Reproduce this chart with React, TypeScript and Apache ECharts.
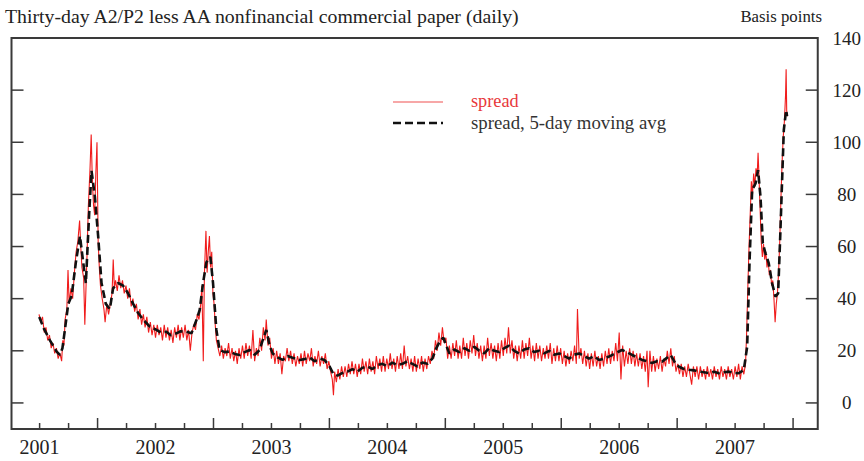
import React, { useEffect, useRef } from "react";
import * as echarts from "echarts";

// Year boundaries (long ticks) and quarter ticks (short ticks)
const yearTicks = [2002, 2003, 2004, 2005, 2006, 2007, 2008];
const quarterTicks = [
  2001.5, 2001.75, 2002.25, 2002.5, 2002.75, 2003.25, 2003.5, 2003.75,
  2004.25, 2004.5, 2004.75, 2005.25, 2005.5, 2005.75, 2006.25, 2006.5,
  2006.75, 2007.25, 2007.5, 2007.75,
];
const yearLabels = ["2001", "2002", "2003", "2004", "2005", "2006", "2007"];
const yTickValues = [0, 20, 40, 60, 80, 100, 120];
const yLabelValues = [0, 20, 40, 60, 80, 100, 120, 140];

const titleText = "Thirty-day A2/P2 less AA nonfinancial commercial paper (daily)";
const unitText = "Basis points";
const seriesNames = ["spread", "spread, 5-day moving avg"];

// 5-day moving average, [decimal year, basis points]
const spreadMA: [number, number][] = [
  [2001.497, 33], [2001.537, 28.5], [2001.589, 24], [2001.647, 19.7], [2001.675, 18.4],
  [2001.697, 21], [2001.718, 28], [2001.747, 38], [2001.776, 41], [2001.813, 54],
  [2001.848, 64], [2001.876, 54], [2001.899, 46], [2001.928, 73], [2001.948, 89],
  [2001.977, 79], [2002.005, 64], [2002.034, 46], [2002.071, 38], [2002.106, 36],
  [2002.134, 44], [2002.177, 46], [2002.22, 45], [2002.264, 42], [2002.307, 38],
  [2002.35, 34.5], [2002.393, 32], [2002.45, 29.3], [2002.508, 28], [2002.545, 27],
  [2002.594, 27.3], [2002.631, 26], [2002.68, 26.7], [2002.717, 27.5], [2002.767, 27.3],
  [2002.81, 26.7], [2002.853, 31.8], [2002.881, 35.7], [2002.91, 46], [2002.939, 54],
  [2002.973, 56], [2002.996, 46], [2003.025, 28], [2003.053, 20.3], [2003.096, 19.5],
  [2003.14, 19.7], [2003.183, 18.8], [2003.226, 18.4], [2003.269, 19.5], [2003.312, 20.3],
  [2003.355, 18.5], [2003.398, 20.3], [2003.424, 24], [2003.456, 28], [2003.484, 22],
  [2003.51, 19], [2003.553, 17.5], [2003.596, 16.5], [2003.639, 18], [2003.682, 17.3],
  [2003.742, 16.5], [2003.785, 16.8], [2003.829, 17.5], [2003.872, 16], [2003.915, 17],
  [2003.958, 16.5], [2004.001, 14], [2004.035, 11], [2004.07, 10.5], [2004.113, 11.5],
  [2004.156, 12], [2004.199, 13], [2004.242, 12], [2004.285, 13.5], [2004.328, 14],
  [2004.371, 13], [2004.414, 14.5], [2004.457, 15], [2004.5, 14], [2004.543, 15.5],
  [2004.586, 14.5], [2004.63, 15], [2004.673, 16], [2004.716, 15], [2004.759, 14],
  [2004.802, 15.5], [2004.845, 15], [2004.888, 17], [2004.922, 21], [2004.957, 24],
  [2004.983, 25], [2005.009, 22], [2005.034, 19], [2005.077, 20.5], [2005.12, 19.5],
  [2005.164, 21], [2005.207, 20], [2005.25, 21.5], [2005.293, 20], [2005.336, 19],
  [2005.379, 21], [2005.422, 20], [2005.465, 19.5], [2005.508, 21], [2005.551, 22],
  [2005.594, 20], [2005.637, 19], [2005.68, 20.5], [2005.723, 21], [2005.766, 19.5],
  [2005.809, 20], [2005.853, 19], [2005.896, 20], [2005.939, 18.5], [2005.982, 19],
  [2006.025, 18], [2006.068, 17], [2006.111, 18.5], [2006.154, 19], [2006.197, 18],
  [2006.24, 17], [2006.283, 18], [2006.326, 16.5], [2006.369, 17], [2006.412, 17.8],
  [2006.464, 19], [2006.524, 20.3], [2006.567, 19.5], [2006.611, 18.4], [2006.654, 17.5],
  [2006.697, 16.5], [2006.74, 16], [2006.783, 15.3], [2006.826, 16], [2006.869, 15.8],
  [2006.903, 17], [2006.944, 18.4], [2006.981, 15.5], [2007.015, 13.9], [2007.058, 13],
  [2007.101, 12.7], [2007.144, 12.5], [2007.188, 12], [2007.231, 11.8], [2007.274, 11.4],
  [2007.317, 12], [2007.36, 11.4], [2007.403, 11.8], [2007.446, 12], [2007.489, 11.5],
  [2007.532, 11.4], [2007.575, 12.7], [2007.604, 21.6], [2007.624, 53.7], [2007.647, 81.7],
  [2007.676, 84.2], [2007.698, 89.3], [2007.719, 79], [2007.739, 61.2], [2007.762, 57.4],
  [2007.79, 53.6], [2007.819, 45.9], [2007.848, 40.8], [2007.871, 42], [2007.891, 66.3],
  [2007.92, 104.7], [2007.94, 112.3], [2007.948, 110],
];

// Daily spread, [decimal year, basis points]
const spreadDaily: [number, number][] = [
  [2001.495, 34], [2001.51, 31], [2001.525, 33], [2001.54, 27], [2001.555, 29], [2001.57, 24],
  [2001.585, 26], [2001.6, 21], [2001.615, 23], [2001.63, 19], [2001.645, 21], [2001.66, 17],
  [2001.675, 19], [2001.69, 16], [2001.7, 24], [2001.71, 22], [2001.72, 32], [2001.735, 36],
  [2001.745, 51], [2001.755, 38], [2001.77, 44], [2001.785, 40], [2001.8, 50], [2001.815, 58],
  [2001.83, 62], [2001.845, 70], [2001.855, 60], [2001.865, 52], [2001.88, 48], [2001.89, 30],
  [2001.9, 44], [2001.91, 58], [2001.92, 75], [2001.935, 90], [2001.945, 103], [2001.955, 85],
  [2001.965, 76], [2001.975, 72], [2001.985, 88], [2001.995, 100], [2002.005, 62], [2002.015, 52],
  [2002.025, 45], [2002.04, 40], [2002.055, 36], [2002.065, 31], [2002.08, 38], [2002.095, 34],
  [2002.11, 38], [2002.125, 42], [2002.135, 55], [2002.145, 44], [2002.155, 47], [2002.17, 43],
  [2002.185, 49], [2002.2, 44], [2002.215, 47], [2002.23, 42], [2002.245, 45], [2002.26, 40],
  [2002.275, 44], [2002.29, 37], [2002.305, 40], [2002.32, 35], [2002.335, 38], [2002.35, 32],
  [2002.365, 36], [2002.38, 30], [2002.395, 34], [2002.41, 29], [2002.425, 33], [2002.44, 27],
  [2002.455, 31], [2002.47, 26], [2002.485, 30], [2002.5, 25], [2002.515, 30], [2002.53, 26],
  [2002.545, 29], [2002.56, 24], [2002.575, 30], [2002.59, 25], [2002.605, 29], [2002.62, 24],
  [2002.635, 28], [2002.65, 23], [2002.665, 29], [2002.68, 25], [2002.695, 30], [2002.71, 24],
  [2002.725, 29], [2002.74, 25], [2002.755, 30], [2002.77, 24], [2002.785, 28], [2002.8, 20],
  [2002.815, 27], [2002.83, 30], [2002.845, 28], [2002.86, 34], [2002.875, 32], [2002.89, 38],
  [2002.9, 45], [2002.912, 16], [2002.922, 50], [2002.935, 66], [2002.945, 50], [2002.955, 58],
  [2002.965, 64], [2002.975, 52], [2002.985, 58], [2002.995, 42], [2003.005, 38], [2003.015, 30],
  [2003.025, 24], [2003.04, 21], [2003.055, 18], [2003.07, 22], [2003.085, 17], [2003.1, 21],
  [2003.115, 18], [2003.13, 23], [2003.145, 17], [2003.16, 21], [2003.175, 16], [2003.19, 20],
  [2003.205, 15], [2003.22, 21], [2003.235, 17], [2003.25, 22], [2003.265, 17], [2003.28, 23],
  [2003.295, 18], [2003.31, 22], [2003.325, 17], [2003.34, 28], [2003.355, 16], [2003.37, 21],
  [2003.385, 18], [2003.4, 25], [2003.415, 20], [2003.43, 29], [2003.445, 24], [2003.455, 32],
  [2003.47, 22], [2003.485, 25], [2003.5, 17], [2003.515, 21], [2003.53, 15], [2003.545, 20],
  [2003.56, 15], [2003.575, 19], [2003.59, 11], [2003.605, 18], [2003.62, 16], [2003.635, 21],
  [2003.65, 16], [2003.665, 20], [2003.68, 15], [2003.695, 19], [2003.71, 14], [2003.725, 18],
  [2003.74, 15], [2003.755, 19], [2003.77, 14], [2003.785, 20], [2003.8, 15], [2003.815, 19],
  [2003.83, 16], [2003.845, 21], [2003.86, 14], [2003.875, 18], [2003.89, 15], [2003.905, 20],
  [2003.92, 14], [2003.935, 18], [2003.95, 15], [2003.965, 19], [2003.98, 13], [2003.995, 16],
  [2004.01, 12], [2004.025, 9], [2004.035, 3], [2004.045, 12], [2004.06, 8], [2004.075, 13],
  [2004.09, 9], [2004.105, 14], [2004.12, 10], [2004.135, 14], [2004.15, 10], [2004.165, 15],
  [2004.18, 11], [2004.195, 16], [2004.21, 11], [2004.225, 15], [2004.24, 10], [2004.255, 15],
  [2004.27, 11], [2004.285, 17], [2004.3, 12], [2004.315, 16], [2004.33, 11], [2004.345, 17],
  [2004.36, 12], [2004.375, 16], [2004.39, 11], [2004.405, 18], [2004.42, 13], [2004.435, 17],
  [2004.45, 12], [2004.465, 18], [2004.48, 12], [2004.495, 17], [2004.51, 13], [2004.525, 19],
  [2004.54, 13], [2004.555, 17], [2004.57, 12], [2004.585, 18], [2004.6, 13], [2004.615, 19],
  [2004.63, 13], [2004.645, 22], [2004.66, 14], [2004.675, 18], [2004.69, 13], [2004.705, 17],
  [2004.72, 12], [2004.735, 18], [2004.75, 12], [2004.765, 17], [2004.78, 13], [2004.795, 18],
  [2004.81, 12], [2004.825, 17], [2004.84, 13], [2004.855, 18], [2004.87, 15], [2004.885, 20],
  [2004.9, 17], [2004.915, 24], [2004.93, 20], [2004.945, 27], [2004.96, 22], [2004.975, 29],
  [2004.99, 23], [2005.005, 25], [2005.02, 17], [2005.035, 22], [2005.05, 17], [2005.065, 23],
  [2005.08, 18], [2005.095, 24], [2005.11, 17], [2005.125, 22], [2005.14, 17], [2005.155, 25],
  [2005.17, 18], [2005.185, 23], [2005.2, 17], [2005.215, 24], [2005.23, 19], [2005.245, 26],
  [2005.26, 18], [2005.275, 23], [2005.29, 17], [2005.305, 22], [2005.32, 16], [2005.335, 22],
  [2005.35, 17], [2005.365, 25], [2005.38, 18], [2005.395, 23], [2005.41, 17], [2005.425, 22],
  [2005.44, 16], [2005.455, 23], [2005.47, 17], [2005.485, 24], [2005.5, 18], [2005.515, 25],
  [2005.53, 19], [2005.545, 29], [2005.56, 19], [2005.575, 24], [2005.59, 17], [2005.605, 22],
  [2005.62, 16], [2005.635, 22], [2005.65, 17], [2005.665, 24], [2005.68, 17], [2005.695, 23],
  [2005.71, 18], [2005.725, 25], [2005.74, 17], [2005.755, 22], [2005.77, 16], [2005.785, 23],
  [2005.8, 17], [2005.815, 22], [2005.83, 16], [2005.845, 21], [2005.86, 17], [2005.875, 22],
  [2005.89, 17], [2005.905, 23], [2005.92, 15], [2005.935, 21], [2005.95, 16], [2005.965, 22],
  [2005.98, 16], [2005.995, 21], [2006.01, 15], [2006.025, 20], [2006.04, 14], [2006.055, 19],
  [2006.07, 15], [2006.085, 20], [2006.1, 16], [2006.115, 22], [2006.13, 15], [2006.14, 36],
  [2006.155, 17], [2006.17, 21], [2006.185, 15], [2006.2, 20], [2006.215, 14], [2006.23, 19],
  [2006.245, 13], [2006.26, 19], [2006.275, 14], [2006.29, 20], [2006.305, 14], [2006.32, 18],
  [2006.335, 13], [2006.35, 19], [2006.365, 14], [2006.38, 20], [2006.395, 15], [2006.41, 21],
  [2006.425, 15], [2006.44, 20], [2006.455, 16], [2006.47, 23], [2006.485, 16], [2006.5, 27],
  [2006.515, 9], [2006.53, 22], [2006.545, 14], [2006.56, 20], [2006.575, 15], [2006.59, 21],
  [2006.605, 15], [2006.62, 20], [2006.635, 14], [2006.65, 19], [2006.665, 14], [2006.68, 19],
  [2006.695, 13], [2006.71, 18], [2006.725, 12], [2006.74, 20], [2006.75, 6], [2006.765, 20],
  [2006.78, 12], [2006.795, 18], [2006.81, 12], [2006.825, 17], [2006.84, 13], [2006.855, 18],
  [2006.87, 12], [2006.885, 17], [2006.9, 14], [2006.915, 20], [2006.93, 15], [2006.945, 21],
  [2006.96, 14], [2006.975, 18], [2006.99, 12], [2007.005, 15], [2007.02, 11], [2007.035, 15],
  [2007.05, 10], [2007.065, 14], [2007.08, 10], [2007.095, 15], [2007.11, 11], [2007.125, 7],
  [2007.14, 14], [2007.155, 10], [2007.17, 14], [2007.185, 9], [2007.2, 14], [2007.215, 10],
  [2007.23, 13], [2007.245, 9], [2007.26, 14], [2007.275, 10], [2007.29, 13], [2007.305, 9],
  [2007.32, 14], [2007.335, 10], [2007.35, 13], [2007.365, 9], [2007.38, 14], [2007.395, 10],
  [2007.41, 13], [2007.425, 9], [2007.44, 14], [2007.455, 10], [2007.47, 13], [2007.485, 9],
  [2007.5, 14], [2007.515, 10], [2007.53, 15], [2007.545, 9], [2007.56, 14], [2007.575, 11],
  [2007.59, 15], [2007.6, 28], [2007.61, 45], [2007.62, 60], [2007.63, 72], [2007.64, 85],
  [2007.65, 80], [2007.66, 88], [2007.67, 83], [2007.68, 90], [2007.69, 87], [2007.698, 96],
  [2007.705, 88], [2007.715, 75], [2007.725, 62], [2007.735, 56], [2007.745, 61], [2007.755, 55],
  [2007.765, 58], [2007.775, 52], [2007.785, 55], [2007.795, 49], [2007.805, 51], [2007.815, 45],
  [2007.825, 47], [2007.835, 40], [2007.845, 31], [2007.855, 38], [2007.865, 42], [2007.875, 50],
  [2007.885, 62], [2007.895, 78], [2007.905, 92], [2007.915, 102], [2007.925, 108], [2007.935, 118],
  [2007.94, 128], [2007.945, 112], [2007.95, 110],
];

const FONT = "'Liberation Serif', 'Times New Roman', serif";
const TEXT = "#222";
const FRAME = "#3a3a3a";
const X_MIN = 2001.2575;
const X_MAX = 2008.2128;
const Y_MIN = -10;
const Y_MAX = 140;

export default function App() {
  const ref = useRef<HTMLDivElement>(null);

  useEffect(() => {
    if (!ref.current) return;
    const chart = echarts.init(ref.current, undefined, { renderer: "svg" });

    const baseGraphics: any[] = [
      {
        type: "text",
        left: 5,
        top: 6,
        style: { text: titleText, font: `19.8px ${FONT}`, fill: TEXT },
      },
      {
        type: "text",
        right: 42,
        top: 8,
        style: { text: unitText, font: `16.8px ${FONT}`, fill: TEXT },
      },
      {
        type: "line",
        shape: { x1: 393, y1: 102, x2: 443, y2: 102 },
        style: { stroke: "#f05050", lineWidth: 1.2 },
      },
      {
        type: "text",
        x: 471,
        y: 101,
        style: {
          text: seriesNames[0],
          font: `18.3px ${FONT}`,
          fill: "#e8383a",
          verticalAlign: "middle",
        },
      },
      {
        type: "line",
        shape: { x1: 393, y1: 123, x2: 443, y2: 123 },
        style: { stroke: "#111", lineWidth: 2.6, lineDash: [8, 4] },
      },
      {
        type: "text",
        x: 471,
        y: 122,
        style: {
          text: seriesNames[1],
          font: `18.8px ${FONT}`,
          fill: "#333",
          verticalAlign: "middle",
        },
      },
    ];

    const option: any = {
      animation: false,
      backgroundColor: "#fff",
      grid: { left: 11.5, right: 45, top: 38, bottom: 32, show: false },
      xAxis: {
        type: "value",
        min: X_MIN,
        max: X_MAX,
        axisLine: { show: false, onZero: false },
        splitLine: { show: false },
        axisTick: { show: false },
        axisLabel: {
          customValues: yearLabels.map((y) => Number(y) + 0.5),
          formatter: (v: number) => String(Math.floor(v)),
          fontFamily: FONT,
          fontSize: 20,
          color: TEXT,
          margin: 8,
        },
      },
      yAxis: {
        type: "value",
        min: Y_MIN,
        max: Y_MAX,
        position: "right",
        axisLine: { show: false, onZero: false },
        splitLine: { show: false },
        axisTick: { show: false },
        axisLabel: {
          customValues: yLabelValues,
          fontFamily: FONT,
          fontSize: 19,
          color: TEXT,
          align: "center",
          margin: 29,
        },
      },
      series: [
        {
          name: seriesNames[0],
          type: "line",
          data: spreadDaily,
          showSymbol: false,
          lineStyle: { color: "#f01c1c", width: 1.1 },
        },
        {
          name: seriesNames[1],
          type: "line",
          data: spreadMA,
          showSymbol: false,
          lineStyle: { color: "#111", width: 2.6, type: [8, 4] },
        },
      ],
      graphic: { elements: baseGraphics },
    };
    chart.setOption(option);

    // Frame and ticks placed through the chart's own axis scales
    const px = (x: number, y: number) =>
      chart.convertToPixel({ xAxisIndex: 0, yAxisIndex: 0 }, [x, y]) as number[];
    const tl = px(X_MIN, Y_MAX);
    const br = px(X_MAX, Y_MIN);
    const tickStyle = { stroke: FRAME, lineWidth: 1.5 };
    const tickGraphics: any[] = [
      {
        type: "rect",
        shape: { x: tl[0], y: tl[1], width: br[0] - tl[0], height: br[1] - tl[1] },
        style: { fill: "none", stroke: FRAME, lineWidth: 2 },
        z: 100,
      },
    ];
    yearTicks.forEach((t) => {
      const p = px(t, Y_MIN);
      tickGraphics.push({
        type: "line",
        z: 100,
        shape: { x1: p[0], y1: p[1], x2: p[0], y2: p[1] - 11 },
        style: tickStyle,
      });
    });
    quarterTicks.forEach((t) => {
      const p = px(t, Y_MIN);
      tickGraphics.push({
        type: "line",
        z: 100,
        shape: { x1: p[0], y1: p[1], x2: p[0], y2: p[1] - 6 },
        style: tickStyle,
      });
    });
    yTickValues.forEach((v) => {
      const l = px(X_MIN, v);
      const r = px(X_MAX, v);
      tickGraphics.push({
        type: "line",
        z: 100,
        shape: { x1: l[0], y1: l[1], x2: l[0] + 12, y2: l[1] },
        style: tickStyle,
      });
      tickGraphics.push({
        type: "line",
        z: 100,
        shape: { x1: r[0] - 12, y1: r[1], x2: r[0], y2: r[1] },
        style: tickStyle,
      });
    });

    chart.setOption({ graphic: { elements: [...baseGraphics, ...tickGraphics] } });
    return () => chart.dispose();
  }, []);

  return (
    <div
      ref={ref}
      style={{ position: "absolute", left: 0, top: 0, width: 864, height: 461 }}
    />
  );
}
